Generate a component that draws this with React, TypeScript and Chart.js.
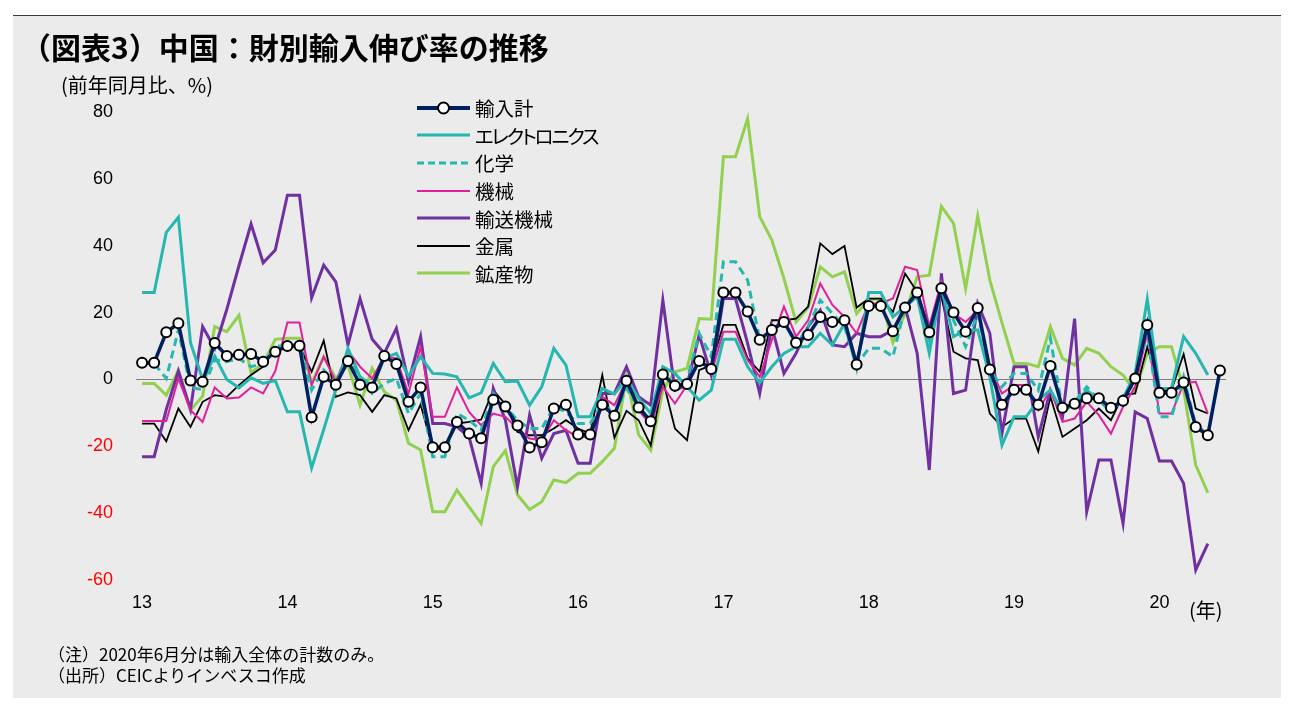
import React, { useEffect, useRef } from 'react';
import { Chart, registerables } from 'chart.js';

Chart.register(...registerables);

// ---- categories / tick labels ----
const years = [2013, 2014, 2015, 2016, 2017, 2018, 2019, 2020];
const yearLabels = ['13', '14', '15', '16', '17', '18', '19', '20'];
const monthsPerYear = ['01', '02', '03', '04', '05', '06', '07', '08', '09', '10', '11', '12'];
const months: string[] = [];
years.forEach((y) => monthsPerYear.forEach((m) => {
  if (!(y === 2020 && Number(m) > 6)) months.push(`${y}-${m}`);
}));

// ---- series (前年同月比, %) ----
const totalImports = [
  5, 5, 14.1, 16.8, -0.3, -0.7, 10.9, 7.0, 7.4, 7.6, 5.3, 8.3,
  10.0, 10.1, -11.3, 0.8, -1.6, 5.5, -1.6, -2.4, 7.0, 4.6, -6.7, -2.4,
  -20.3, -20.3, -12.7, -16.2, -17.6, -6.1, -8.1, -13.8, -20.4, -18.8, -8.7, -7.6,
  -16.5, -16.5, -7.6, -10.9, -0.4, -8.4, -12.5, 1.5, -1.9, -1.4, 5.5, 3.1,
  26.0, 26.0, 20.3, 11.9, 14.8, 17.2, 11.0, 13.3, 18.7, 17.2, 17.7, 4.5,
  22.0, 22.0, 14.4, 21.5, 26.0, 14.1, 27.3, 20.0, 14.3, 21.4, 3.0, -7.6,
  -3.1, -3.1, -7.6, 4.0, -8.5, -7.3, -5.6, -5.6, -8.5, -6.4, 0.3, 16.3,
  -4.0, -4.0, -0.9, -14.2, -16.7, 2.7,
];
const electronics = [
  26, 26, 44, 48.5, 11, 0, 7, 0, -2.5, 0.5, -1.2, -0.3,
  -9.7, -9.7, -26.5, -15, -3, 9.3, 0.8, -2, 6.3, 7.8, 1, 6.8,
  1.8, 1.6, 0.8, -5.5, -4, 4.8, -0.7, -0.5, -7.7, -2.2, 9.3, 4.3,
  -11.2, -11.2, -2.7, -4.4, 0.3, -5.7, -10.2, 3.8, 1.8, -2.2, -6.2, -3.2,
  12, 12, 3.8, -1, 3.8, 7.8, 9.8, 9.8, 13.8, 10.3, 16.8, 3.3,
  26, 26, 18.7, 21.8, 24.8, 7.8, 27.7, 12.8, 14.8, 14.8, 0.8, -19.7,
  -11.2, -11.2, -6.2, -3.2, -9.7, -7.2, -3.2, -6.2, -9.7, -5.7, 1.8, 24,
  -2.7, -2.7, 12.8, 7.8, 1.3,
];
const chemicals = [
  4.8, 4.8, 0.3, 14.8, -2.5, -3, 5.8, 5.3, 6.3, 3.8, 4.8, 9.8,
  10.3, 10.3, -3.2, 2.8, -1.2, 7.8, -0.2, -4.2, -1.2, 0.3, -10.2, -4.2,
  -23.1, -23.1, -10.2, -12.2, -15.2, -4.2, -8.2, -12.2, -14.7, -14.7, -8.2, -9.7,
  -13.2, -13.2, -7.2, -10.2, -2.7, -8.2, -12.2, 1.8, -2.2, -0.2, 13.8, 6.8,
  35.2, 35.2, 29.7, 11.8, 14.8, 17.7, 10.3, 15.8, 23.7, 19.7, 15.8, 4.3,
  9.3, 9.3, 6.8, 21.8, 24.8, 11.8, 27.2, 17.7, 9.8, 19.7, 2.8, -2.2,
  1.8, 1.8, -3.2, 12.3, -9.2, -6.7, -2.2, -6.2, -8.2, -6.7, 1.8, 13.8,
  -11.2, -11.2, 0.8, -13.7, -16.2,
];
const machinery = [
  -12.4, -12.4, -12.4, 0.3, -9.2, -12.7, -2.4, -5.7, -5.4, -2.4, -4.2, 2.5,
  17, 17, -1.7, 6.8, -0.7, 8.6, 3.8, 0.3, 6.8, 6.3, -4.2, 9.8,
  -11.2, -11.2, -2.4, -9.7, -13.7, -10.2, -11.2, -14.7, -17.7, -18.2, -12.2, -15.2,
  -17.2, -17.2, -5.2, -7.7, -0.2, -9.2, -13.7, -2.2, -7.2, -1.7, 6.8, 1.8,
  14.3, 14.3, 5.8, 0.8, 11.8, 21.8, 12.8, 17.7, 28.7, 22.3, 18.7, 13.8,
  22.7, 22.7, 24.2, 33.7, 32.7, 15.8, 29.2, 19.7, 17.2, 20.7, 3.8, -4.2,
  -1.7, -1.7, -9.2, -3.2, -12.7, -11.7, -6.7, -10.7, -16.2, -8.2, -2.2, 13.8,
  -10.2, -10.2, -1.2, -0.7, -10.2,
];
const transport = [
  -23.1, -23.1, -9, 2.5, -9, 15.8, 9.3, 21, 34, 46.5, 34.9, 38.7,
  55.1, 55.1, 24.4, 34.2, 29.2, 10.3, 24.2, 12, 7.8, 15.3, -0.7, 12.8,
  -13.2, -13.2, -14.2, -17.2, -31.1, -2.7, -12.2, -32.1, -10.7, -23.6, -16.2, -15.2,
  -25.1, -25.1, -4.2, -4.2, 3.8, -5.2, -7.7, 23.7, -3.2, -1.7, 13.3, 1.3,
  24.2, 24.2, 10.8, -4.2, 15.8, 1.8, 7.8, 15.8, 20.7, 10.3, 9.8, 13.8,
  12.8, 12.8, 14.8, 21.8, 7.8, -27.1, 31.7, -4.2, -3.2, 22.7, 13.8, -16.2,
  3.8, 3.8, -17.2, -3.2, -11.2, 18.2, -39.6, -24.1, -24.1, -43.1, -9.7, -11.7,
  -24.4, -24.4, -31.1, -57, -49.1,
];
const metals = [
  -13.2, -13.2, -18.5, -8.7, -14.2, -6.7, -4.7, -5.2, -1.7, 1.3, 3.8, 9.3,
  9.8, 9.8, 2.3, 11.6, -5.2, -3.9, -4.7, -9.7, -4.7, -5.7, -15.2, -7.5,
  -20.7, -20.7, -13.2, -12.7, -12, -3.2, -7.4, -15.7, -16.7, -16.7, -14.7, -12.2,
  -14.7, -16.2, 1.3, -17.4, -9.4, -12.2, -19.7, -0.2, -14.7, -18.2, 2.8, 4.3,
  16.3, 16.3, 6.3, 2.3, 17.7, 17.7, 18.2, 21.8, 40.7, 37.5, 39.9, 21.5,
  24.2, 24.2, 20.2, 31.7, 26.2, 14.8, 24.7, 8.3, 6.3, 5.8, -10.2, -14.2,
  -11.7, -11.7, -21.6, -5.2, -17.2, -14.7, -12.2, -8.7, -12.2, -4.7, -4.2, 9.8,
  -3.2, -3.2, 7.6, -8.7, -10.2,
];
const minerals = [
  -1.2, -1.2, -4.7, 2.8, -9.2, -5, 15.8, 14.3, 19.2, 2, 4.8, 12,
  12.3, 12.3, -1.2, 6.8, 0.3, 4.3, -7.7, 3.3, -3.7, -6.2, -19.1, -21.1,
  -39.6, -39.6, -33.1, -38.1, -43.1, -26.1, -21.3, -34.6, -38.9, -36.6, -30.1, -30.9,
  -28.1, -28.1, -24.6, -20.6, 0.8, -16.6, -21.1, -3.2, 2.3, 3.3, 18.2, 18,
  66.6, 66.6, 78, 48.7, 41.7, 30.2, 17.2, 21.5, 33.7, 30.7, 32.2, 19.7,
  24, 24, 11, 19.7, 30.7, 31.2, 51.8, 46.7, 27.2, 48.9, 29.7, 17,
  4.8, 4.8, 3.8, 15.8, 6.3, 4.3, 9.3, 7.8, 3.8, 1.3, -3.7, 7.8,
  9.8, 9.8, -3, -25.6, -33.9,
];

const yMin = -60;
const yMax = 80;
const yStep = 20;

const NAVY = '#002060';
const TEAL = '#25b7b0';
const MAGENTA = '#e0209a';
const PURPLE = '#7030a0';
const BLACK = '#000000';
const GREEN = '#92d050';

const seriesNames = ['輸入計', 'エレクトロニクス', '化学', '機械', '輸送機械', '金属', '鉱産物'];
const legendSpacing = [0, -2.2, 0, 0, 0, 0, 0];

const JP = '"Noto Sans CJK JP", "Noto Sans", sans-serif';
const NUM = '"Liberation Sans", Arial, sans-serif';

function LegendSample({ idx }: { idx: number }) {
  const common = { x1: 2, x2: 55, y1: 10, y2: 10 };
  let el: React.ReactNode = null;
  if (idx === 0) {
    el = (
      <>
        <line {...common} stroke={NAVY} strokeWidth={4} />
        <circle cx={28.5} cy={10} r={5.5} fill="#fff" stroke="#000" strokeWidth={2} />
      </>
    );
  } else if (idx === 1) el = <line {...common} stroke={TEAL} strokeWidth={3} />;
  else if (idx === 2) el = <line {...common} stroke={TEAL} strokeWidth={3} strokeDasharray="7 4" />;
  else if (idx === 3) el = <line {...common} stroke={MAGENTA} strokeWidth={2} />;
  else if (idx === 4) el = <line {...common} stroke={PURPLE} strokeWidth={3} />;
  else if (idx === 5) el = <line {...common} stroke={BLACK} strokeWidth={2} />;
  else el = <line {...common} stroke={GREEN} strokeWidth={3} />;
  return <svg width={57} height={20} style={{ display: 'block' }}>{el}</svg>;
}

export default function App() {
  const ref = useRef<HTMLCanvasElement>(null);

  useEffect(() => {
    const canvas = ref.current;
    if (!canvas) return;
    const chart = new Chart(canvas, {
      type: 'line',
      data: {
        labels: months,
        datasets: [
          {
            label: seriesNames[0], data: totalImports, borderColor: NAVY, borderWidth: 3.5,
            pointRadius: 5, pointBackgroundColor: '#ffffff', pointBorderColor: '#000000', pointBorderWidth: 2,
          },
          { label: seriesNames[1], data: electronics, borderColor: TEAL, borderWidth: 3, pointRadius: 0 },
          { label: seriesNames[2], data: chemicals, borderColor: TEAL, borderWidth: 3, borderDash: [8, 5], pointRadius: 0 },
          { label: seriesNames[3], data: machinery, borderColor: MAGENTA, borderWidth: 2, pointRadius: 0 },
          { label: seriesNames[4], data: transport, borderColor: PURPLE, borderWidth: 3, pointRadius: 0 },
          { label: seriesNames[5], data: metals, borderColor: BLACK, borderWidth: 1.8, pointRadius: 0 },
          { label: seriesNames[6], data: minerals, borderColor: GREEN, borderWidth: 3, pointRadius: 0 },
        ],
      },
      options: {
        responsive: false,
        animation: false,
        events: [],
        layout: { padding: { top: 112, right: 69, left: 0, bottom: 0 } },
        elements: { line: { tension: 0, fill: false }, point: { hitRadius: 0 } },
        plugins: { legend: { display: false }, tooltip: { enabled: false }, title: { display: false } },
        scales: {
          x: {
            type: 'category',
            offset: true,
            grid: { display: false, drawTicks: false },
            border: { display: false },
            ticks: {
              autoSkip: false,
              maxRotation: 0,
              minRotation: 0,
              padding: 12,
              color: '#000000',
              font: { family: NUM, size: 18 },
              callback: (_v: any, i: number) => (i % 12 === 0 ? yearLabels[i / 12] : ''),
            },
            afterFit: (s: any) => { s.height = 140; },
          },
          y: {
            min: yMin,
            max: yMax,
            grid: {
              drawTicks: false,
              lineWidth: 1,
              color: (ctx: any) => (ctx.tick && ctx.tick.value === 0 ? '#7f7f7f' : 'rgba(0,0,0,0)'),
            },
            border: { display: false },
            ticks: {
              stepSize: yStep,
              padding: 23,
              color: (ctx: any) => (ctx.tick && ctx.tick.value < 0 ? '#ff0000' : '#000000'),
              font: { family: NUM, size: 18 },
            },
            afterFit: (s: any) => { s.width = 136; },
          },
        },
      },
    });
    return () => chart.destroy();
  }, []);

  return (
    <div style={{ position: 'absolute', left: 0, top: 0, width: 1295, height: 720, background: '#ffffff', overflow: 'hidden' }}>
      <div style={{ position: 'absolute', left: 13, top: 15, width: 1268, height: 1, background: '#3a3a3a' }} />
      <div style={{ position: 'absolute', left: 13, top: 16, width: 1268, height: 682, background: '#ebebeb' }} />
      <canvas ref={ref} width={1295} height={720} style={{ position: 'absolute', left: 0, top: 0, width: 1295, height: 720, display: 'block' }} />
      <div style={{ position: 'absolute', left: 21, top: 26, fontFamily: JP, fontWeight: 700, fontSize: 30, lineHeight: '40px', color: '#000', whiteSpace: 'nowrap' }}>
        （図表3）中国：財別輸入伸び率の推移
      </div>
      <div style={{ position: 'absolute', left: 61, top: 71, fontFamily: JP, fontSize: 20, lineHeight: '28px', color: '#000', whiteSpace: 'nowrap' }}>
        (前年同月比、%)
      </div>
      <div style={{ position: 'absolute', left: 415, top: 94 }}>
        {seriesNames.map((n, i) => (
          <div key={n} style={{ display: 'flex', alignItems: 'center', height: 27.6 }}>
            <LegendSample idx={i} />
            <span style={{ marginLeft: 3, fontFamily: JP, fontSize: 19.5, lineHeight: '27px', color: '#000', whiteSpace: 'nowrap', fontFeatureSettings: '"palt"', letterSpacing: legendSpacing[i] }}>{n}</span>
          </div>
        ))}
      </div>
      <div style={{ position: 'absolute', left: 1189, top: 596, fontFamily: JP, fontSize: 20, lineHeight: '28px', color: '#000', whiteSpace: 'nowrap' }}>
        (年)
      </div>
      <div style={{ position: 'absolute', left: 48, top: 643, fontFamily: JP, fontSize: 17, lineHeight: '21px', color: '#000', whiteSpace: 'nowrap' }}>
        <div>（注）2020年6月分は輸入全体の計数のみ。</div>
        <div>（出所）CEICよりインベスコ作成</div>
      </div>
    </div>
  );
}
